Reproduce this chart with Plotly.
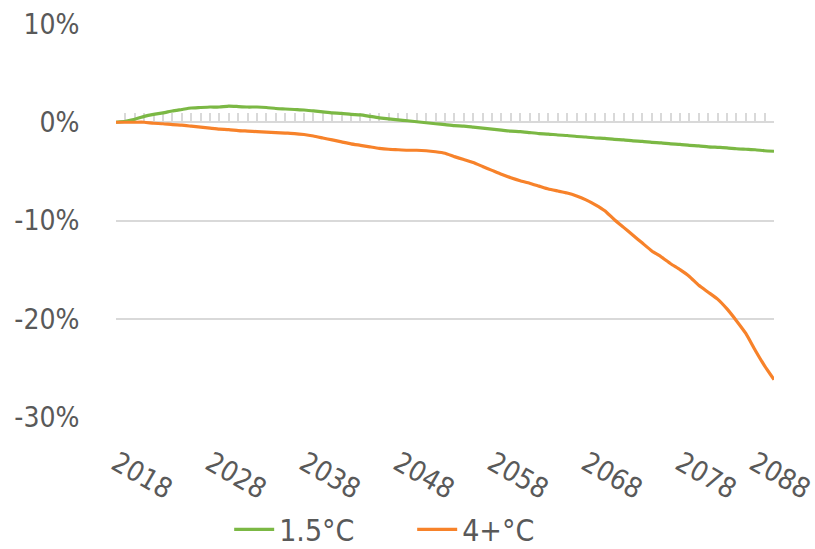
import plotly.graph_objects as go

# Years on the horizontal axis
years = list(range(2018, 2089))

# Change versus 2018, in percent
warming_1_5 = [
    0.0, 0.1, 0.3, 0.6, 0.8, 0.95, 1.15, 1.3, 1.45, 1.5,
    1.55, 1.55, 1.65, 1.6, 1.55, 1.55, 1.5, 1.4, 1.35, 1.3,
    1.25, 1.15, 1.05, 0.95, 0.9, 0.8, 0.75, 0.6, 0.45, 0.35,
    0.25, 0.15, 0.05, -0.05, -0.15, -0.25, -0.35, -0.4, -0.5, -0.6,
    -0.7, -0.8, -0.9, -0.95, -1.05, -1.15, -1.2, -1.3, -1.35, -1.45,
    -1.5, -1.6, -1.65, -1.75, -1.8, -1.9, -1.95, -2.05, -2.1, -2.2,
    -2.25, -2.35, -2.4, -2.5, -2.55, -2.6, -2.7, -2.75, -2.8, -2.9,
    -2.95,
]
warming_4 = [
    0.0, 0.0, 0.0, 0.0, -0.1, -0.15, -0.25, -0.3, -0.4, -0.5,
    -0.6, -0.7, -0.75, -0.85, -0.9, -0.95, -1.0, -1.05, -1.1, -1.15,
    -1.25, -1.4, -1.6, -1.8, -2.0, -2.2, -2.35, -2.5, -2.65, -2.75,
    -2.8, -2.85, -2.85, -2.9, -3.0, -3.15, -3.5, -3.8, -4.1, -4.5,
    -4.9, -5.3, -5.65, -5.95, -6.2, -6.5, -6.8, -7.0, -7.2, -7.5,
    -7.9, -8.4, -9.0, -9.9, -10.7, -11.5, -12.3, -13.1, -13.7, -14.4,
    -15.0, -15.7, -16.6, -17.3, -18.0, -19.0, -20.2, -21.5, -23.2, -24.8,
    -26.2,
]

series_names = ["1.5°C", "4+°C"]
series_colors = ["#7BB844", "#F7822A"]

y_tick_values = [10, 0, -10, -20, -30]
y_tick_labels = ["10%", "0%", "-10%", "-20%", "-30%"]
x_tick_values = list(range(2018, 2089, 10))
x_tick_labels = [str(y) for y in x_tick_values]

FONT = "DejaVu Sans Condensed, Liberation Sans Narrow, Roboto Condensed, Open Sans, sans-serif"
GREY = "#595959"
GRID = "#D9D9D9"

fig = go.Figure()
# the second series sits on the overlaid axis that carries the 0% tick marks
for name, vals, col, xa in zip(series_names, [warming_1_5, warming_4],
                               series_colors, ["x", "x2"]):
    fig.add_trace(go.Scatter(
        x=years, y=vals, name=name, mode="lines", xaxis=xa,
        line=dict(color=col, width=3.2, shape="spline", smoothing=0.4),
    ))

# slanted year labels under the plot; the last one is pulled in to stay on the page
for i, (val, txt) in enumerate(zip(x_tick_values, x_tick_labels)):
    last = i == len(x_tick_values) - 1
    fig.add_annotation(
        x=val, xref="x", y=-0.149, yref="paper",
        text=txt, showarrow=False, textangle=30,
        xanchor="center", yanchor="middle", xshift=6 if last else 26,
        font=dict(family=FONT, size=28, color=GREY),
    )

fig.update_layout(
    width=815, height=549,
    margin=dict(l=116, r=41, t=24, b=132, autoexpand=False),
    paper_bgcolor="white", plot_bgcolor="white",
    font=dict(family=FONT, size=28, color=GREY),
    showlegend=True,
    legend=dict(
        orientation="h", x=0.172, xanchor="left", y=-0.286, yanchor="middle",
        font=dict(family=FONT, size=30, color=GREY),
        entrywidth=128, entrywidthmode="pixels", itemwidth=40,
        bgcolor="rgba(0,0,0,0)",
    ),
    xaxis=dict(
        range=[years[0], years[-1]],
        tickmode="array", tickvals=x_tick_values, showticklabels=False,
        ticks="", showgrid=False, zeroline=False, showline=False, automargin=False,
    ),
    # axis line with yearly tick marks sitting on the 0% level
    xaxis2=dict(
        overlaying="x", anchor="free", position=0.75, side="bottom",
        range=[years[0], years[-1]], tickmode="linear", tick0=years[0], dtick=1,
        ticks="inside", ticklen=8, tickwidth=1.5, tickcolor=GRID,
        showline=True, linecolor=GRID, linewidth=2,
        showticklabels=False, showgrid=False, zeroline=False,
        layer="below traces", automargin=False,
    ),
    yaxis=dict(
        range=[-30, 10],
        tickmode="array", tickvals=y_tick_values, ticktext=y_tick_labels,
        ticks="outside", ticklen=30, tickcolor="rgba(0,0,0,0)",
        showgrid=True, gridcolor=GRID, gridwidth=2,
        zeroline=False, showline=False, automargin=False,
        tickfont=dict(family=FONT, size=28, color=GREY),
    ),
)

fig.write_html("out.html")
